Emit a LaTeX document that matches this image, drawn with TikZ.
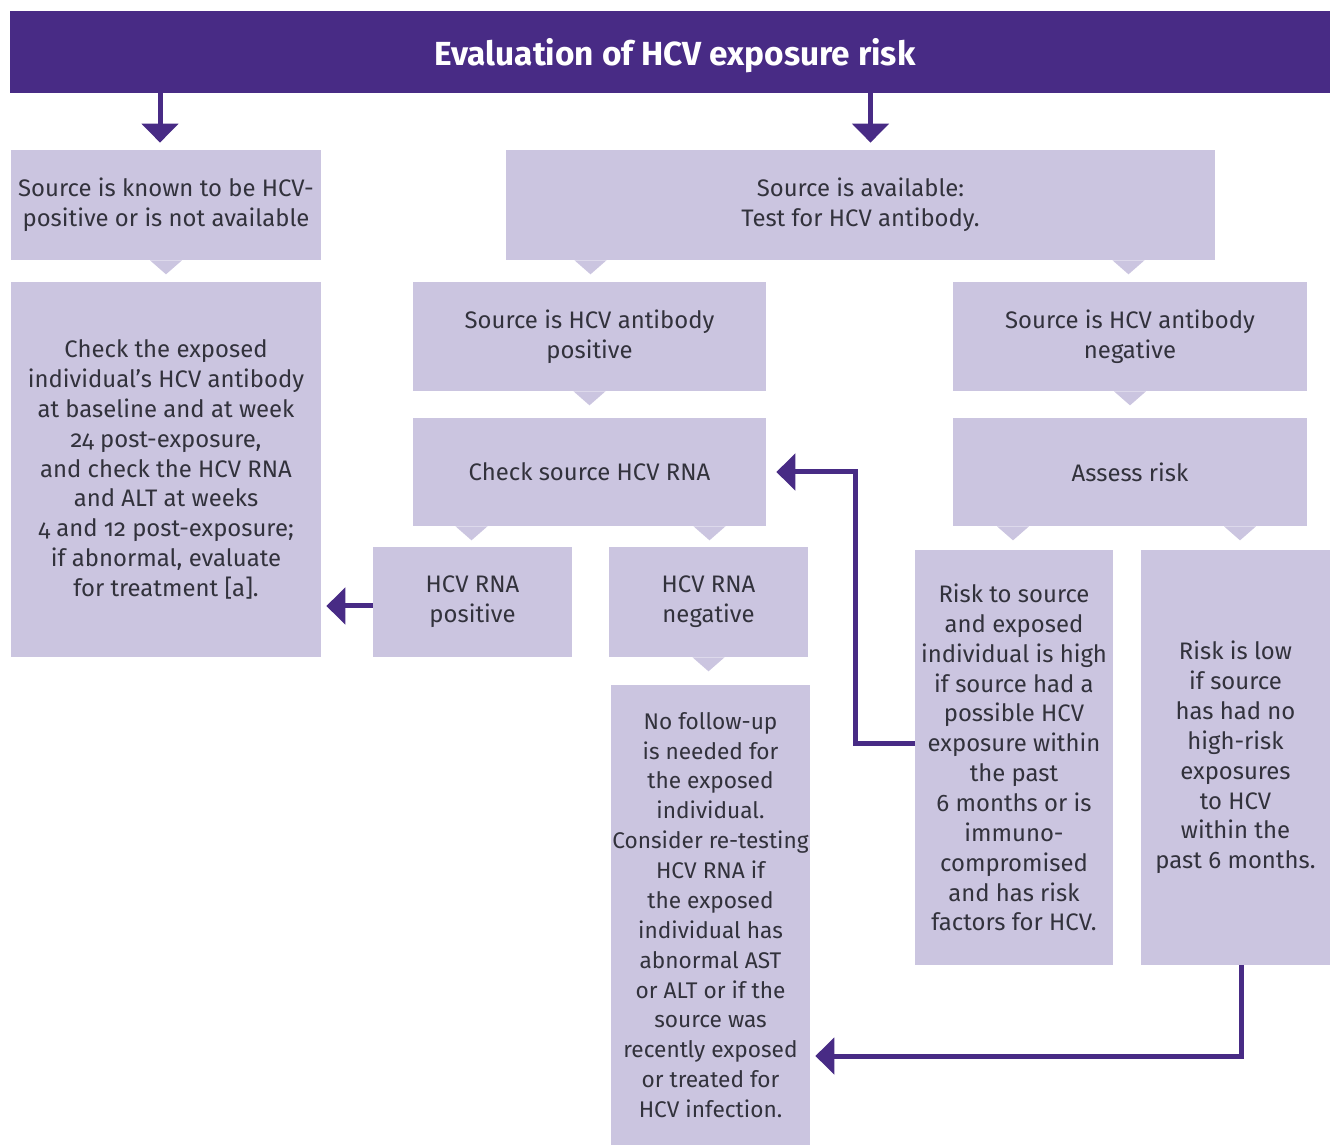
\documentclass[tikz,border=0pt]{standalone}
\usepackage{fontspec}
\setmainfont{Fira Sans}[Numbers=OldStyle]
\usepackage{xcolor}
\usepackage{tikz}
\usetikzlibrary{positioning,arrows.meta,calc}
\definecolor{barcol}{RGB}{72,43,133}
\definecolor{boxcol}{RGB}{203,197,224}
\definecolor{txtcol}{RGB}{50,50,60}

\begin{document}
\begin{tikzpicture}[x=0.02cm,y=-0.02cm,
  tbar/.style={rectangle,fill=barcol,text=white,inner sep=0pt,
               font=\fontsize{19}{22}\selectfont\bfseries},
  pbox/.style={rectangle,fill=boxcol,text=txtcol,inner sep=0pt,
               align=center,font=\fontsize{13.6}{17}\selectfont},
  arr/.style ={-{Triangle[width=0.72cm,length=0.38cm]},line width=0.1cm,
               barcol},
  ntc/.style ={fill=boxcol}
]
\useasboundingbox (0,0) rectangle (1330,1145);
\node[tbar,minimum width=26.4cm,minimum height=1.64cm] (title) at (670,52) {};
\node[tbar] (ttext) at (675,56) {Evaluation of HCV exposure risk};
% left branch
\node[pbox,minimum width=6.2cm,minimum height=2.2cm] (known) at (166,205)
  {Source is known to be HCV-\\positive or is not available};
\node[pbox,minimum width=6.2cm,minimum height=7.5cm] (check) at (166,469.5)
  {Check the exposed\\individual's HCV antibody\\at baseline and at week\\
   24 post-exposure,\\and check the HCV RNA\\and ALT at weeks\\
   4 and 12 post-exposure;\\if abnormal, evaluate\\for treatment [a].};
% right branch
\node[pbox,minimum width=14.18cm,minimum height=2.2cm] (avail) at (860.5,205)
  {Source is available:\\Test for HCV antibody.};
\node[pbox,minimum width=7.06cm,minimum height=2.18cm] (abpos) at (589.5,336.5)
  {Source is HCV antibody\\positive};
\node[pbox,minimum width=7.08cm,minimum height=2.18cm] (abneg) at (1130,336.5)
  {Source is HCV antibody\\negative};
\node[pbox,minimum width=7.06cm,minimum height=2.16cm] (rna) at (589.5,472)
  {Check source HCV RNA};
\node[pbox,minimum width=7.08cm,minimum height=2.16cm] (assess) at (1130,472)
  {Assess risk};
\node[pbox,minimum width=3.98cm,minimum height=2.2cm] (rnapos) at (472.5,602)
  {HCV RNA\\positive};
\node[pbox,minimum width=3.98cm,minimum height=2.2cm] (rnaneg) at (708.5,602)
  {HCV RNA\\negative};
\node[pbox,minimum width=3.98cm,minimum height=9.2cm,
      font=\fontsize{12.9}{17}\selectfont] (nofu) at (710.5,915)
  {No follow-up\\is needed for\\the exposed\\individual.\\Consider re-testing\\
   HCV RNA if\\the exposed\\individual has\\abnormal AST\\or ALT or if the\\
   source was\\recently exposed\\or treated for\\HCV infection.};
\node[pbox,minimum width=3.96cm,minimum height=8.3cm] (high) at (1014,757.5)
  {Risk to source\\and exposed\\individual is high\\if source had a\\
   possible HCV\\exposure within\\the past\\6 months or is\\immuno-\\
   compromised\\and has risk\\factors for HCV.};
\node[pbox,minimum width=3.78cm,minimum height=8.3cm] (low) at (1235.5,757.5)
  {Risk is low\\if source\\has had no\\high-risk\\exposures\\to HCV\\
   within the\\past 6 months.};
% notches under the boxes
\foreach \n/\dx in {known/0,avail/-270,avail/268,abpos/0,abneg/0,
                    rna/-118,rna/120,assess/-117,assess/110,rnaneg/0}
  \fill[ntc] ($(\n.south)+(\dx-16,0)$) -- ++(32,0) -- ++(-16,14) -- cycle;
% connectors
\draw[arr,shorten >=0.14cm] ($(title.south -| known.north)+(-6,0)$)
  -- ($(known.north)+(-6,0)$);
\draw[arr,shorten >=0.14cm] ($(title.south -| avail.north)+(10,0)$)
  -- ($(avail.north)+(10,0)$);
\draw[arr,shorten >=0.1cm] ($(rnapos.west)+(0,4)$) -- ($(rnapos.west -| check.east)+(0,4)$);
\draw[arr,shorten >=0.2cm] ($(high.west)+(0,-14)$) -- ++(-59,0) |- (rna.east);
\draw[arr,shorten >=0.1cm] ($(low.south)+(6,0)$) |- ($(nofu.east)+(0,141)$);
\end{tikzpicture}
\end{document}
